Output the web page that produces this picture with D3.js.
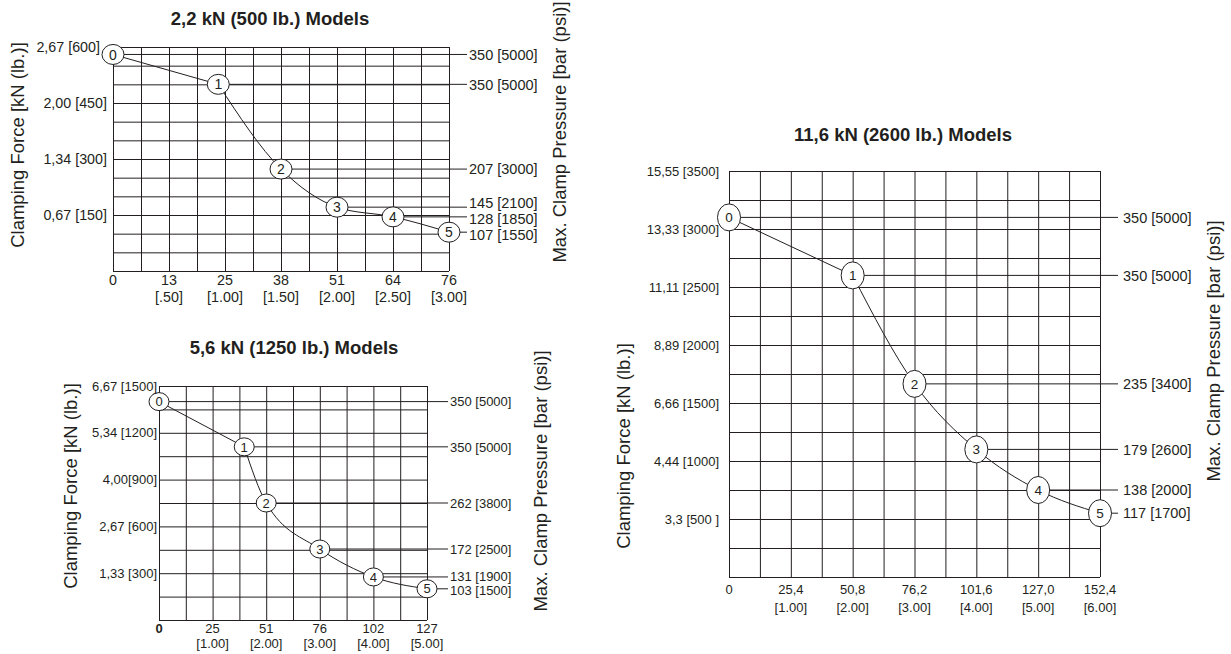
<!DOCTYPE html>
<html><head><meta charset="utf-8">
<script src="https://cdn.jsdelivr.net/npm/d3@7"></script>
<style>
html,body{margin:0;padding:0;background:#fff;}
svg{display:block;font-family:"Liberation Sans",Arial,Helvetica,sans-serif;}
</style></head><body>
<svg id="c" width="1231" height="654"></svg>
<script>
// ---------- DATA ----------
// Chart A: 2,2 kN (500 lb.) Models
const aTitle = "2,2 kN (500 lb.) Models";
const aStrokeIn = [0, 0.94, 1.5, 2.0, 2.5, 3.0];
const aForceLb = [580, 500, 273, 171, 145, 104];
const aPressure = ["350 [5000]", "350 [5000]", "207 [3000]", "145 [2100]", "128 [1850]", "107 [1550]"];
const aYTickLb = [600, 450, 300, 150];
const aYTickLabels = ["2,67 [600]", "2,00 [450]", "1,34 [300]", "0,67 [150]"];
const aXTickIn = [0, 0.5, 1, 1.5, 2, 2.5, 3];
const aXTickMm = ["0", "13", "25", "38", "51", "64", "76"];
const aXTickInch = ["", "[.50]", "[1.00]", "[1.50]", "[2.00]", "[2.50]", "[3.00]"];

// Chart B: 5,6 kN (1250 lb.) Models
const bTitle = "5,6 kN (1250 lb.) Models";
const bStrokeIn = [0, 1.59, 2.0, 3.0, 4.0, 5.0];
const bForceLb = [1400, 1110, 750, 455, 276, 200];
const bPressure = ["350 [5000]", "350 [5000]", "262 [3800]", "172 [2500]", "131 [1900]", "103 [1500]"];
const bYTickLb = [1500, 1200, 900, 600, 300];
const bYTickLabels = ["6,67 [1500]", "5,34 [1200]", "4,00[900]", "2,67 [600]", "1,33 [300]"];
const bXTickIn = [0, 1, 2, 3, 4, 5];
const bXTickMm = ["0", "25", "51", "76", "102", "127"];
const bXTickInch = ["", "[1.00]", "[2.00]", "[3.00]", "[4.00]", "[5.00]"];

// Chart C: 11,6 kN (2600 lb.) Models
const cTitle = "11,6 kN (2600 lb.) Models";
const cStrokeIn = [0, 2, 3, 4, 5, 6];
const cForceLb = [3100, 2600, 1665, 1100, 750, 550];
const cPressure = ["350 [5000]", "350 [5000]", "235 [3400]", "179 [2600]", "138 [2000]", "117 [1700]"];
const cYTickLb = [3500, 3000, 2500, 2000, 1500, 1000, 500];
const cYTickLabels = ["15,55 [3500]", "13,33 [3000]", "11,11 [2500]", "8,89 [2000]", "6,66 [1500]", "4,44 [1000]", "3,3 [500 ]"];
const cXTickIn = [0, 1, 2, 3, 4, 5, 6];
const cXTickMm = ["0", "25,4", "50,8", "76,2", "101,6", "127,0", "152,4"];
const cXTickInch = ["", "[1.00]", "[2.00]", "[3.00]", "[4.00]", "[5.00]", "[6.00]"];

const leftAxisTitle = "Clamping Force [kN (lb.)]";
const rightAxisTitle = "Max. Clamp Pressure [bar (psi)]";

// ---------- DRAWING ----------
const INK = "#231f20";
const svg = d3.select("#c");

function relax(ys, minGap) {
  const out = ys.slice();
  for (let it = 0; it < 200; it++) {
    let moved = false;
    for (let i = 0; i < out.length - 1; i++) {
      const d = out[i + 1] - out[i];
      if (d < minGap - 0.01) {
        const p = (minGap - d) / 2;
        out[i] -= p; out[i + 1] += p; moved = true;
      }
    }
    if (!moved) break;
  }
  return out;
}

function drawChart(c) {
  const g = svg.append("g");
  const x = d3.scaleLinear().domain([0, c.xMax]).range([c.left, c.right]);
  const y = d3.scaleLinear().domain([0, c.yMax]).range([c.bottom, c.top]);
  const W = c.right - c.left, H = c.bottom - c.top;

  // grid (via axes)
  const gx = d3.range(0, c.xMax + 1e-9, c.xStep);
  const gy = d3.range(0, c.yMax + 1e-9, c.yStep);
  const gxg = g.append("g").attr("transform", `translate(0,${c.bottom})`)
    .call(d3.axisBottom(x).tickValues(gx).tickSize(-H).tickFormat(""));
  gxg.select(".domain").remove();
  gxg.selectAll("line").attr("stroke", INK).attr("stroke-width", 1);
  gxg.selectAll("text").remove();
  const gyg = g.append("g").attr("transform", `translate(${c.left},0)`)
    .call(d3.axisLeft(y).tickValues(gy).tickSize(-W).tickFormat(""));
  gyg.select(".domain").remove();
  gyg.selectAll("line").attr("stroke", INK).attr("stroke-width", 1);
  gyg.selectAll("text").remove();

  const pts = c.xs.map((v, i) => ({ i, x: x(v), y: y(c.ys[i]), label: c.press[i] }));

  // reference lines to pressure labels
  g.selectAll(".ref").data(pts).join("line")
    .attr("x1", d => d.x).attr("x2", c.lineEnd)
    .attr("y1", d => d.y).attr("y2", d => d.y)
    .attr("stroke", INK).attr("stroke-width", 1);

  // curve
  const line = d3.line().x(d => d.x).y(d => d.y);
  g.append("path").attr("d", line(pts.slice(0, 2)))
    .attr("fill", "none").attr("stroke", INK).attr("stroke-width", 1);
  g.append("path").attr("d", line.curve(d3.curveMonotoneX)(pts.slice(1)))
    .attr("fill", "none").attr("stroke", INK).attr("stroke-width", 1);

  // point markers
  const m = g.selectAll(".pt").data(pts).join("g");
  m.append("ellipse").attr("cx", d => d.x).attr("cy", d => d.y)
    .attr("rx", c.rx).attr("ry", c.ry)
    .attr("fill", "#fff").attr("stroke", INK).attr("stroke-width", 1);
  m.append("text").attr("x", d => d.x).attr("y", d => d.y).attr("dy", "0.36em")
    .attr("text-anchor", "middle").attr("font-size", c.ptFont).attr("fill", INK)
    .text(d => d.i);

  // pressure labels
  const ly = relax(pts.map(d => d.y), c.minGap);
  g.selectAll(".pl").data(pts).join("text")
    .attr("x", c.labelX).attr("y", (d, i) => ly[i]).attr("dy", "0.36em")
    .attr("font-size", c.pressFont).attr("fill", INK)
    .text(d => d.label);

  // y tick labels (shifted left if the first marker is in the way)
  const p0 = pts[0];
  g.selectAll(".yt").data(c.yTicks).join("text")
    .attr("x", d => {
      const yy = y(d);
      let xe = c.left - c.yGap;
      if (Math.abs(yy - p0.y) < c.ry * 0.8) xe = Math.min(xe, p0.x - c.rx - 2);
      return xe;
    })
    .attr("y", d => y(d)).attr("dy", "0.36em")
    .attr("text-anchor", "end").attr("font-size", c.tickFont).attr("fill", INK)
    .text((d, i) => c.yLabels[i]);

  // x tick labels (two lines)
  g.selectAll(".xt1").data(c.xTicks).join("text")
    .attr("x", d => x(d)).attr("y", c.bottom + c.xLine1)
    .attr("text-anchor", "middle").attr("font-size", c.tickFont).attr("fill", INK)
    .attr("font-weight", (d, i) => (i === 0 && c.zeroBold) ? "bold" : null)
    .text((d, i) => c.xMm[i]);
  g.selectAll(".xt2").data(c.xTicks).join("text")
    .attr("x", d => x(d)).attr("y", c.bottom + c.xLine2)
    .attr("text-anchor", "middle").attr("font-size", c.tickFont).attr("fill", INK)
    .text((d, i) => c.xIn[i]);

  // title
  g.append("text").attr("x", c.titleX).attr("y", c.titleY)
    .attr("text-anchor", "middle").attr("font-size", 18.5).attr("font-weight", "bold")
    .attr("fill", INK).text(c.title);

  // axis titles
  g.append("text").attr("transform", `translate(${c.lTitle[0]},${c.lTitle[1]}) rotate(-90)`)
    .attr("dy", "0.36em").attr("text-anchor", "middle").attr("font-size", 18.5)
    .attr("fill", INK).text(leftAxisTitle);
  g.append("text").attr("transform", `translate(${c.rTitle[0]},${c.rTitle[1]}) rotate(-90)`)
    .attr("dy", "0.36em").attr("text-anchor", "middle").attr("font-size", 18.5)
    .attr("fill", INK).text(rightAxisTitle);
}

drawChart({
  title: aTitle, xs: aStrokeIn, ys: aForceLb, press: aPressure,
  yTicks: aYTickLb, yLabels: aYTickLabels, xTicks: aXTickIn, xMm: aXTickMm, xIn: aXTickInch,
  xMax: 3, yMax: 600, xStep: 0.25, yStep: 50,
  left: 113, right: 449, top: 47, bottom: 271,
  rx: 11, ry: 10, ptFont: 14, pressFont: 14.5, tickFont: 14.3, minGap: 16,
  lineEnd: 467, labelX: 469, yGap: 6, xLine1: 14, xLine2: 31,
  titleX: 270, titleY: 25, lTitle: [17, 145], rTitle: [559, 132], zeroBold: false
});

drawChart({
  title: bTitle, xs: bStrokeIn, ys: bForceLb, press: bPressure,
  yTicks: bYTickLb, yLabels: bYTickLabels, xTicks: bXTickIn, xMm: bXTickMm, xIn: bXTickInch,
  xMax: 5, yMax: 1500, xStep: 0.5, yStep: 150,
  left: 159, right: 427, top: 386, bottom: 620,
  rx: 10, ry: 9, ptFont: 13, pressFont: 13, tickFont: 13, minGap: 14,
  lineEnd: 448, labelX: 450, yGap: 2, xLine1: 12.5, xLine2: 27.5,
  titleX: 294, titleY: 354, lTitle: [70, 486], rTitle: [540, 481], zeroBold: true
});

drawChart({
  title: cTitle, xs: cStrokeIn, ys: cForceLb, press: cPressure,
  yTicks: cYTickLb, yLabels: cYTickLabels, xTicks: cXTickIn, xMm: cXTickMm, xIn: cXTickInch,
  xMax: 6, yMax: 3500, xStep: 0.5, yStep: 250,
  left: 729, right: 1100, top: 171, bottom: 577,
  rx: 11.5, ry: 13.5, ptFont: 13.5, pressFont: 14.5, tickFont: 13, minGap: 16,
  lineEnd: 1118, labelX: 1123, yGap: 10, xLine1: 17, xLine2: 34.5,
  titleX: 903, titleY: 141, lTitle: [623, 446], rTitle: [1213, 351], zeroBold: false
});
</script></body></html>
